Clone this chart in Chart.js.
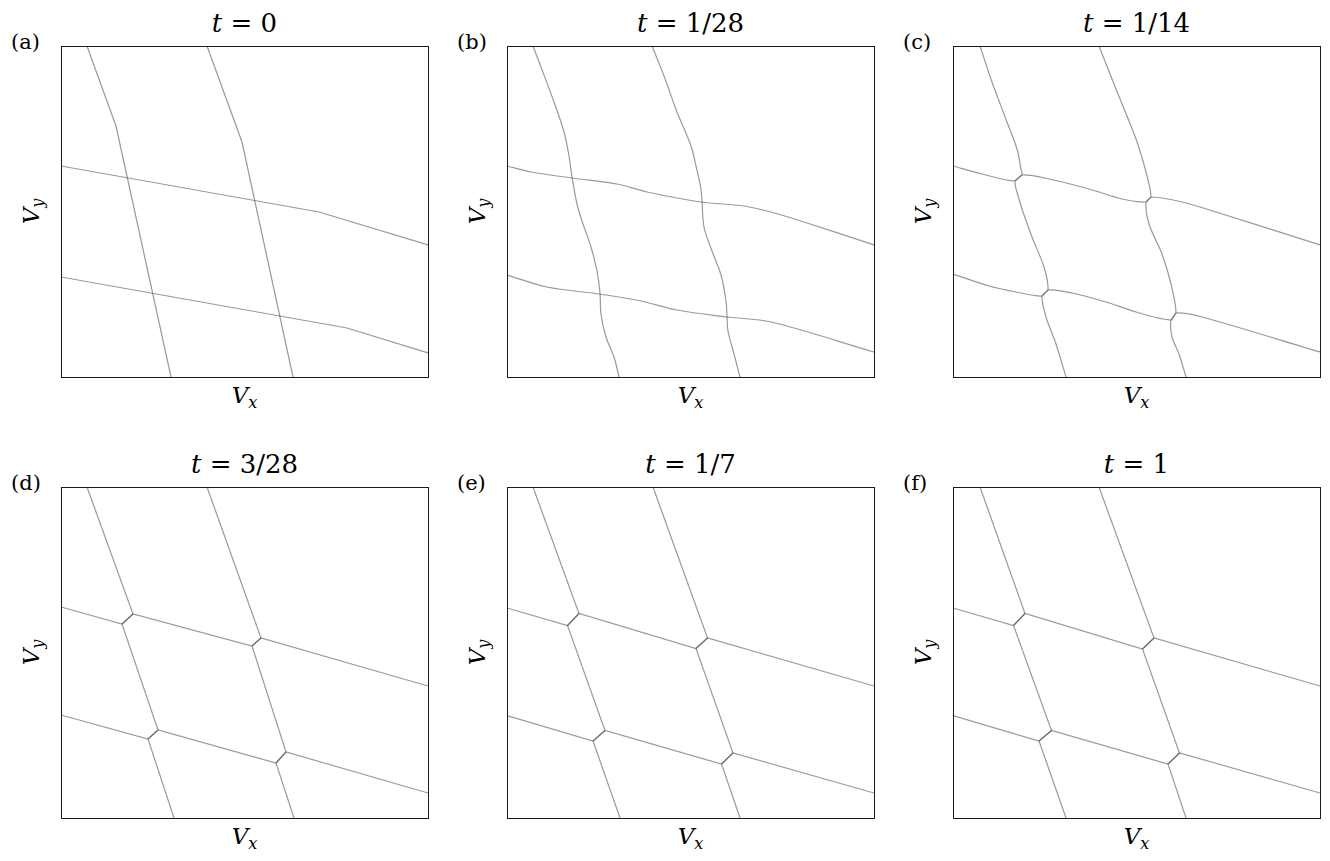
<!DOCTYPE html>
<html lang="en">
<head>
  <meta charset="UTF-8">
  <title>Boundaries in velocity space</title>
  <script src="https://cdn.jsdelivr.net/npm/chart.js"></script>
  <style>
    body { margin: 0; background: #fff; }
    #page { position: relative; width: 1330px; height: 861px; overflow: hidden; background: #fff;
            font-family: "DejaVu Serif", "Liberation Serif", serif; color: #000; }
    #page canvas { position: absolute; }
    .lbl { position: absolute; white-space: nowrap; }
    .title { font-size: 26px; line-height: 26px; width: 367px; text-align: center; }
    .letter { font-size: 21px; line-height: 21px; }
    .axis { font-size: 23px; line-height: 23px; width: 120px; text-align: center; }
    .axis sub { font-size: 0.7em; line-height: 0; vertical-align: -0.3em; }
    .vy { transform: rotate(-90deg); }
  </style>
</head>
<body>
  <div id="page"></div>

  <script>
    // panel titles (t values) and letters
    const timeLabels = ['0', '1/28', '1/14', '3/28', '1/7', '1'];
    const panelLetters = ['a', 'b', 'c', 'd', 'e', 'f'];

    // boundary curves, [Vx, Vy] in plot units (x 0..367, y 0..331)
    // (a) t = 0
    const aV1 = [[26, 331], [55, 251], [110, 0]];
    const aV2 = [[146, 331], [181, 235], [232, 0]];
    const aH1 = [[0, 211], [258, 165], [367, 132]];
    const aH2 = [[0, 100], [286, 49], [367, 24]];

    // (b) t = 1/28
    const bV1 = [[26, 331], [47, 275], [57, 245], [62, 221], [65, 200], [70, 173], [75, 156], [84, 130],
                 [90, 106], [93, 84], [94, 63], [99, 40], [107, 20], [112, 0]];
    const bV2 = [[145, 331], [157, 301], [170, 265], [184, 231], [189, 211], [194, 188], [195, 176],
                 [197, 150], [205, 126], [214, 102], [219, 76], [220, 61], [221, 46], [227, 23], [233, 0]];
    const bH1 = [[0, 211], [24, 205], [65, 199], [110, 193], [140, 185], [194, 175], [237, 171],
                 [264, 165], [297, 155], [367, 132]];
    const bH2 = [[0, 102], [40, 90], [92, 83], [134, 76], [170, 67], [220, 60], [264, 55], [367, 25]];

    // (c) t = 1/14
    const cV1 = [[27, 331], [39, 295], [54, 255], [64, 228], [68, 208], [69, 202], [62, 196], [66, 178],
                 [70, 165], [79, 140], [91, 110], [95, 87], [89, 81], [93, 60], [103, 33], [113, 0]];
    const cV2 = [[146, 331], [163, 288], [183, 238], [193, 205], [198, 180], [193, 175], [196, 153],
                 [209, 123], [218, 93], [223, 64], [218, 57], [219, 40], [226, 23], [233, 0]];
    const cH1 = [[0, 211], [29, 203], [62, 196], [69, 202], [96, 198], [136, 188], [169, 178],
                 [193, 175], [198, 180], [229, 175], [263, 165], [367, 132]];
    const cH2 = [[0, 103], [36, 91], [63, 85], [89, 81], [95, 87], [119, 84], [153, 75], [183, 65],
                 [218, 57], [223, 64], [249, 60], [367, 25]];

    // (d) t = 3/28
    const dV1 = [[26, 331], [72, 204], [61, 194], [97, 88], [87, 79], [113, 0]];
    const dV2 = [[146, 331], [200, 180], [191, 172], [225, 66], [215, 55], [233, 0]];
    const dH1 = [[0, 211], [61, 194], [72, 204], [191, 172], [200, 180], [367, 132]];
    const dH2 = [[0, 103], [87, 79], [97, 88], [215, 55], [225, 66], [367, 25]];

    // (e) t = 1/7
    const eV1 = [[26, 331], [72, 204.5], [60.5, 192.5], [98, 87.5], [86, 77], [113, 0]];
    const eV2 = [[146, 331], [200.5, 180], [189, 169.5], [226, 65], [214.5, 54], [233, 0]];
    const eH1 = [[0, 210], [60.5, 192.5], [72, 204.5], [189, 169.5], [200.5, 180], [367, 132]];
    const eH2 = [[0, 102.5], [86, 77], [98, 87.5], [214.5, 54], [226, 65], [367, 25]];

    // (f) t = 1
    const fV1 = [[27, 331], [72, 204.5], [60.5, 192.5], [98.5, 87.5], [86, 77], [113, 0]];
    const fV2 = [[146, 331], [201, 180], [189.5, 169], [226.5, 65], [215, 54], [233, 0]];
    const fH1 = [[0, 210], [60.5, 192.5], [72, 204.5], [189.5, 169], [201, 180], [367, 132]];
    const fH2 = [[0, 102.5], [86, 77], [98.5, 87.5], [215, 54], [226.5, 65], [367, 25]];

    const panelCurves = [
      [aV1, aV2, aH1, aH2],
      [bV1, bV2, bH1, bH2],
      [cV1, cV2, cH1, cH2],
      [dV1, dV2, dH1, dH2],
      [eV1, eV2, eH1, eH2],
      [fV1, fV2, fH1, fH2]
    ];

    // the wavy early-time curves are drawn smoothed
    const panelTension = [0, 0.35, 0.3, 0, 0, 0];

    // layout of the 3x2 grid (plot area left/top in page pixels)
    const colLeft = [61, 507, 953];
    const rowTop = [46, 487];
    const plotW = 367, plotH = 331, pad = 3;

    // thin black box round each plot area
    const frameBox = {
      id: 'frameBox',
      afterDraw(chart) {
        const { ctx, chartArea: { left, top, width, height } } = chart;
        ctx.save();
        ctx.strokeStyle = '#1a1a1a';
        ctx.lineWidth = 1;
        ctx.strokeRect(left + 0.5, top + 0.5, width, height);
        ctx.restore();
      }
    };

    const page = document.getElementById('page');

    function addLabel(cls, html, left, top) {
      const el = document.createElement('div');
      el.className = 'lbl ' + cls;
      el.innerHTML = html;
      el.style.left = left + 'px';
      el.style.top = top + 'px';
      page.appendChild(el);
      return el;
    }

    function makePanel(i) {
      const L = colLeft[i % 3];
      const T = rowTop[Math.floor(i / 3)];

      const canvas = document.createElement('canvas');
      canvas.width = plotW + 2 * pad;
      canvas.height = plotH + 2 * pad;
      canvas.style.left = (L - pad) + 'px';
      canvas.style.top = (T - pad) + 'px';
      page.appendChild(canvas);

      new Chart(canvas, {
        type: 'scatter',
        data: {
          datasets: panelCurves[i].map(pts => ({
            data: pts.map(([x, y]) => ({ x, y })),
            showLine: true,
            pointRadius: 0,
            borderColor: 'rgba(70, 70, 70, 0.55)',
            borderWidth: 1.2,
            tension: panelTension[i],
            fill: false
          }))
        },
        options: {
          responsive: false,
          animation: false,
          events: [],
          layout: { padding: pad },
          plugins: { legend: { display: false }, tooltip: { enabled: false } },
          scales: {
            x: { type: 'linear', min: 0, max: plotW, display: false },
            y: { type: 'linear', min: 0, max: plotH, display: false }
          }
        },
        plugins: [frameBox]
      });

      // title, panel letter and axis labels
      addLabel('title', '<i>t</i> = ' + timeLabels[i], L, T - 36);
      addLabel('letter', '(' + panelLetters[i] + ')', L - 50, T - 14);
      addLabel('axis', '<i>V</i><sub><i>x</i></sub>', L + plotW / 2 - 60, T + plotH + 7);
      addLabel('axis vy', '<i>V</i><sub><i>y</i></sub>', L - 30 - 60, T + plotH / 2 - 11.5);
    }

    for (let i = 0; i < 6; i++) makePanel(i);
  </script>
</body>
</html>
